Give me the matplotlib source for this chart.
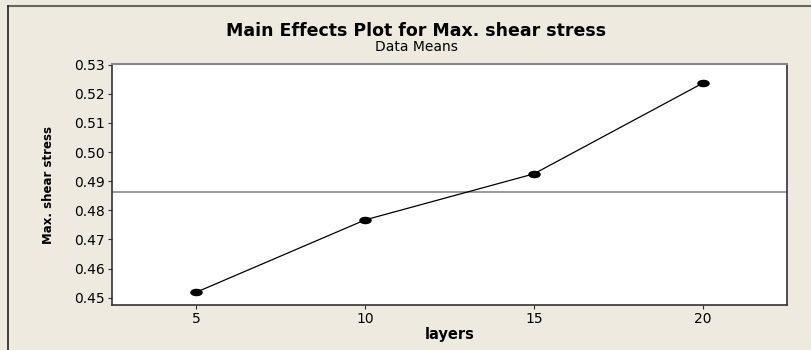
import matplotlib.pyplot as plt
from matplotlib.lines import Line2D
from matplotlib.path import Path
from matplotlib.transforms import Affine2D

# Data means
layers = [5, 10, 15, 20]
shear_means = [0.4519, 0.4767, 0.4925, 0.5236]
y_ticks = [0.45, 0.46, 0.47, 0.48, 0.49, 0.50, 0.51, 0.52, 0.53]
x_ticks = [5, 10, 15, 20]

grand_mean = sum(shear_means) / len(shear_means)

# flattened dot like the original's symbols
oval = Path.unit_circle().transformed(Affine2D().scale(1.0, 0.55))

bg = '#EEEAE0'
fig = plt.figure(figsize=(8.12, 3.5), dpi=100, facecolor=bg)
# axes box in pixels: left 112, right 787, top 64, bottom 305
W, H = 812, 350
ax = fig.add_axes([112 / W, 1 - 305 / H, (787 - 112) / W, (305 - 64) / H])
ax.set_facecolor('white')

ax.axhline(grand_mean, color='#8a8a8a', linewidth=1.2, zorder=1)
ax.plot(layers, shear_means, color='black', linewidth=0.9, marker=oval,
        markersize=8, markerfacecolor='black', zorder=2)

ax.set_xlim(2.5, 22.5)
ax.set_ylim(0.4475, 0.5302)
ax.set_xticks(x_ticks)
ax.set_yticks(y_ticks)
ax.set_yticklabels(['%.2f' % v for v in y_ticks])
ax.tick_params(labelsize=10, length=3, width=0.8, color='#333333', pad=2)

for side in ['left', 'bottom', 'right']:
    ax.spines[side].set_color('#333333')
    ax.spines[side].set_linewidth(1.2)
ax.spines['top'].set_color('#888888')
ax.spines['top'].set_linewidth(1.5)

ax.set_xlabel('layers', fontsize=10.5, fontweight='bold', labelpad=1)
ax.set_ylabel('Max. shear stress', fontsize=8.5, fontweight='bold', labelpad=14)

fig.text(416 / W, 1 - 31 / H, 'Main Effects Plot for Max. shear stress',
         ha='center', va='center', fontsize=12.5, fontweight='bold')
fig.text(416 / W, 1 - 47 / H, 'Data Means', ha='center', va='center', fontsize=10)

# outer frame (top and left edges visible)
fig.add_artist(Line2D([8 / W, 1], [1 - 6 / H, 1 - 6 / H], color='#666666', linewidth=1.5))
fig.add_artist(Line2D([8 / W, 8 / W], [0, 1 - 6 / H], color='#222222', linewidth=1.2))

fig.savefig('out.png', dpi=100, facecolor=bg)
